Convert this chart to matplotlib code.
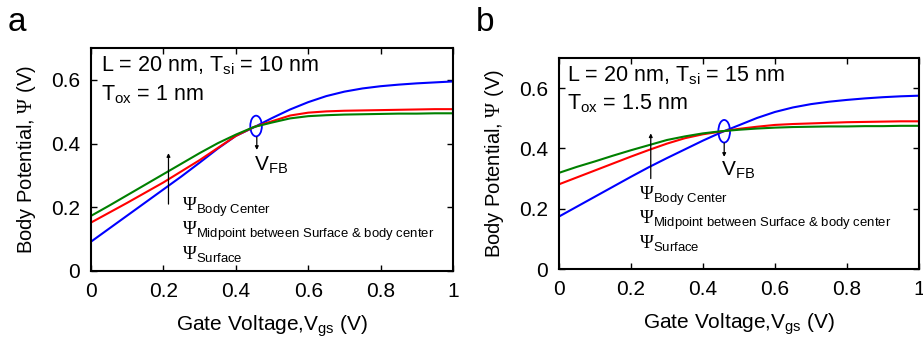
import matplotlib
matplotlib.use("Agg")
import matplotlib.pyplot as plt
from matplotlib.patches import Ellipse
from matplotlib.mathtext import MathTextParser

plt.rcParams['font.family'] = ['Liberation Sans', 'DejaVu Sans']
plt.rcParams['mathtext.fontset'] = 'custom'
plt.rcParams['mathtext.rm'] = 'Liberation Sans'
plt.rcParams['mathtext.it'] = 'Liberation Sans:italic'
plt.rcParams['mathtext.cal'] = 'Liberation Serif'

# ---- data ----
vgs = [0, 0.05, 0.1, 0.15, 0.2, 0.25, 0.3, 0.35, 0.4, 0.45, 0.5,
       0.55, 0.6, 0.65, 0.7, 0.75, 0.8, 0.85, 0.9, 0.95, 1.0]

a_surface = [0.092, 0.133, 0.174, 0.215, 0.256, 0.297, 0.340, 0.384, 0.424, 0.451, 0.480,
             0.507, 0.530, 0.549, 0.563, 0.573, 0.580, 0.585, 0.589, 0.592, 0.595]
a_mid     = [0.152, 0.183, 0.214, 0.246, 0.278, 0.313, 0.348, 0.386, 0.424, 0.452, 0.470,
             0.488, 0.497, 0.501, 0.503, 0.504, 0.505, 0.506, 0.507, 0.508, 0.508]
a_center  = [0.173, 0.205, 0.238, 0.271, 0.304, 0.337, 0.370, 0.401, 0.428, 0.452, 0.466,
             0.479, 0.486, 0.489, 0.491, 0.492, 0.493, 0.494, 0.494, 0.495, 0.495]

b_surface = [0.174, 0.207, 0.240, 0.273, 0.306, 0.338, 0.368, 0.397, 0.426, 0.453, 0.477,
             0.501, 0.521, 0.536, 0.547, 0.555, 0.561, 0.566, 0.570, 0.573, 0.575]
b_mid     = [0.281, 0.304, 0.327, 0.350, 0.373, 0.395, 0.416, 0.434, 0.447, 0.456, 0.465,
             0.472, 0.478, 0.481, 0.483, 0.485, 0.487, 0.488, 0.489, 0.490, 0.490]
b_center  = [0.319, 0.339, 0.357, 0.376, 0.394, 0.411, 0.428, 0.440, 0.450, 0.457, 0.462,
             0.466, 0.469, 0.471, 0.472, 0.473, 0.473, 0.474, 0.474, 0.475, 0.475]

xticks = [0, 0.2, 0.4, 0.6, 0.8, 1]
xticklabels = ['0', '0.2', '0.4', '0.6', '0.8', '1']
yticks = [0, 0.2, 0.4, 0.6]
yticklabels = ['0', '0.2', '0.4', '0.6']

_parser = MathTextParser('agg')


def pick(*cands):
    for c in cands:
        try:
            _parser.parse(c, dpi=100)
            return c
        except Exception:
            continue
    return cands[-1]


PSI = r'\mathcal{\Psi}'
try:
    _parser.parse('$' + PSI + '$', dpi=100)
except Exception:
    PSI = r'\Psi'

psi_labels = [
    pick('$' + PSI + r'_{\mathrm{Body\ Center}}$', '$' + PSI + r'_{Body\ Center}$'),
    pick('$' + PSI + r'_{\mathrm{Midpoint\ between\ Surface\ &\ body\ center}}$',
         '$' + PSI + r'_{\mathrm{Midpoint\ between\ Surface}\ &\ \mathrm{body\ center}}$',
         '$' + PSI + r'_{\mathrm{Midpoint\ between\ Surface\ and\ body\ center}}$'),
    pick('$' + PSI + r'_{\mathrm{Surface}}$', '$' + PSI + r'_{Surface}$'),
]
ylab = pick('Body Potential, $' + PSI + '$ (V)', 'Body Potential, $\\Psi$ (V)')

fig = plt.figure(figsize=(9.23, 3.48), dpi=100)

panels = [
    dict(rect=[0.0986, 0.2213, 0.3922, 0.6408], letter='a', letter_xy=(0.008, 0.935),
         surf=a_surface, mid=a_mid, cen=a_center,
         l1='L = 20 nm, T$_{\\mathrm{si}}$ = 10 nm', l2='T$_{\\mathrm{ox}}$ = 1 nm',
         tx=0.028, ty1=0.897, ty2=0.767,
         arrow_x=0.214, arrow_y=(0.21, 0.37),
         ell=(0.456, 0.455, 0.032, 0.065), vfb_arrow=(0.458, 0.42, 0.38),
         vfb_text=(0.45, 0.315), psi_x=0.25, psi_y=[0.189, 0.113, 0.037]),
    dict(rect=[0.6056, 0.2270, 0.3900, 0.6063], letter='b', letter_xy=(0.516, 0.935),
         surf=b_surface, mid=b_mid, cen=b_center,
         l1='L = 20 nm, T$_{\\mathrm{si}}$ = 15 nm', l2='T$_{\\mathrm{ox}}$ = 1.5 nm',
         tx=0.023, ty1=0.891, ty2=0.758,
         arrow_x=0.255, arrow_y=(0.30, 0.45),
         ell=(0.459, 0.457, 0.0325, 0.075), vfb_arrow=(0.459, 0.418, 0.372),
         vfb_text=(0.45, 0.31), psi_x=0.223, psi_y=[0.229, 0.149, 0.07]),
]

for p in panels:
    ax = fig.add_axes(p['rect'])
    ax.plot(vgs, p['surf'], color='#0000ff', lw=1.5)
    ax.plot(vgs, p['mid'], color='#ff0000', lw=1.5)
    ax.plot(vgs, p['cen'], color='#008000', lw=1.5)
    ax.set_xlim(0, 1)
    ax.set_ylim(0, 0.7)
    ax.set_xticks(xticks)
    ax.set_xticklabels(xticklabels)
    ax.set_yticks(yticks)
    ax.set_yticklabels(yticklabels)
    ax.tick_params(direction='in', top=True, right=True, length=4, width=1,
                   labelsize=15, pad=8)
    for s in ax.spines.values():
        s.set_linewidth(1.5)
    ax.set_xlabel('Gate Voltage,V$_{\\mathrm{gs}}$ (V)', fontsize=15, labelpad=9)
    ax.set_ylabel(ylab, fontsize=14.5, labelpad=9)

    ax.text(p['tx'], p['ty1'], p['l1'], transform=ax.transAxes, fontsize=15.5, va='baseline')
    ax.text(p['tx'], p['ty2'], p['l2'], transform=ax.transAxes, fontsize=15.5, va='baseline')

    ax.annotate('', xy=(p['arrow_x'], p['arrow_y'][1]), xytext=(p['arrow_x'], p['arrow_y'][0]),
                arrowprops=dict(arrowstyle='-|>', color='black', lw=0.9,
                                mutation_scale=5, shrinkA=0, shrinkB=0))
    ex, ey, ew, eh = p['ell']
    ax.add_patch(Ellipse((ex, ey), ew, eh, fill=False, edgecolor='#0000ff', lw=1.3))
    vx, vy0, vy1 = p['vfb_arrow']
    ax.annotate('', xy=(vx, vy1), xytext=(vx, vy0),
                arrowprops=dict(arrowstyle='-|>', color='black', lw=0.9,
                                mutation_scale=5, shrinkA=0, shrinkB=0))
    ax.text(p['vfb_text'][0], p['vfb_text'][1], 'V$_{\\mathrm{FB}}$', fontsize=15, va='baseline')

    for lab, yy in zip(psi_labels, p['psi_y']):
        ax.text(p['psi_x'], yy, lab, fontsize=13.5, va='baseline')

    fig.text(p['letter_xy'][0], p['letter_xy'][1], p['letter'], fontsize=24, va='center')

fig.savefig('out.png', dpi=100)
